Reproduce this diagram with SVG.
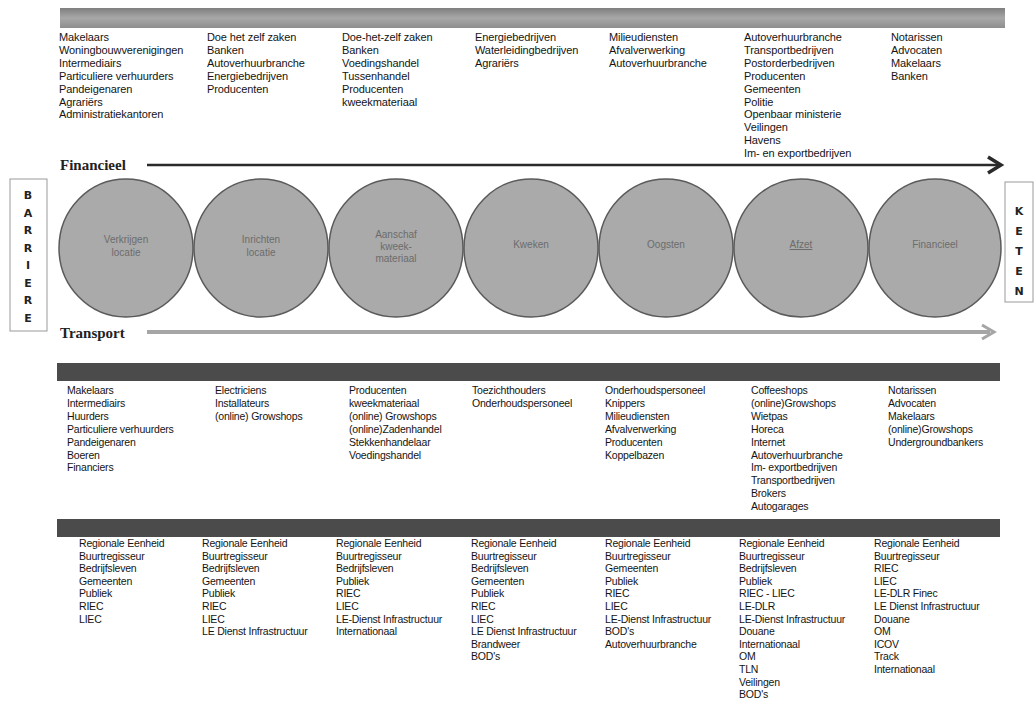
<svg xmlns="http://www.w3.org/2000/svg" width="1034" height="701" viewBox="0 0 1034 701">
<defs>
<style>
.t{font-family:"Liberation Sans",Arial,sans-serif;font-size:10.5px;fill:#141414;letter-spacing:-0.2px}
.tt{font-size:11px;letter-spacing:-0.1px}
.c{font-family:"Liberation Sans",Arial,sans-serif;font-size:10px;fill:#6c6c6c;text-anchor:middle}
.lbl{font-family:"Liberation Serif","Times New Roman",serif;font-size:15px;font-weight:bold;fill:#222}
.v{font-family:"DejaVu Sans",sans-serif;font-size:11px;font-weight:bold;fill:#222;text-anchor:middle}
.circ{fill:#aaaaaa;stroke:#5a5a5a;stroke-width:1.5}
.band{fill:#4b4b4b}
.box{fill:#fff;stroke:#999;stroke-width:1}
</style>
<linearGradient id="hg" x1="0" y1="0" x2="0" y2="1">
<stop offset="0" stop-color="#7e7e7e"/>
<stop offset="0.5" stop-color="#a8a8a8"/>
<stop offset="1" stop-color="#8e8e8e"/>
</linearGradient>
</defs>
<rect width="1034" height="701" fill="#fff"/>

<g id="header-band"><rect x="60" y="8" width="945" height="20" fill="url(#hg)"/></g>

<g id="top-col1"><text class="t tt" y="41"><tspan x="59">Makelaars</tspan><tspan x="59" dy="12.9">Woningbouwverenigingen</tspan><tspan x="59" dy="12.9">Intermediairs</tspan><tspan x="59" dy="12.9">Particuliere verhuurders</tspan><tspan x="59" dy="12.9">Pandeigenaren</tspan><tspan x="59" dy="12.9">Agrariërs</tspan><tspan x="59" dy="12.9">Administratiekantoren</tspan></text></g>
<g id="top-col2"><text class="t tt" y="41"><tspan x="207">Doe het zelf zaken</tspan><tspan x="207" dy="12.9">Banken</tspan><tspan x="207" dy="12.9">Autoverhuurbranche</tspan><tspan x="207" dy="12.9">Energiebedrijven</tspan><tspan x="207" dy="12.9">Producenten</tspan></text></g>
<g id="top-col3"><text class="t tt" y="41"><tspan x="342">Doe-het-zelf zaken</tspan><tspan x="342" dy="12.9">Banken</tspan><tspan x="342" dy="12.9">Voedingshandel</tspan><tspan x="342" dy="12.9">Tussenhandel</tspan><tspan x="342" dy="12.9">Producenten</tspan><tspan x="342" dy="12.9">kweekmateriaal</tspan></text></g>
<g id="top-col4"><text class="t tt" y="41"><tspan x="475">Energiebedrijven</tspan><tspan x="475" dy="12.9">Waterleidingbedrijven</tspan><tspan x="475" dy="12.9">Agrariërs</tspan></text></g>
<g id="top-col5"><text class="t tt" y="41"><tspan x="609">Milieudiensten</tspan><tspan x="609" dy="12.9">Afvalverwerking</tspan><tspan x="609" dy="12.9">Autoverhuurbranche</tspan></text></g>
<g id="top-col6"><text class="t tt" y="41"><tspan x="744">Autoverhuurbranche</tspan><tspan x="744" dy="12.9">Transportbedrijven</tspan><tspan x="744" dy="12.9">Postorderbedrijven</tspan><tspan x="744" dy="12.9">Producenten</tspan><tspan x="744" dy="12.9">Gemeenten</tspan><tspan x="744" dy="12.9">Politie</tspan><tspan x="744" dy="12.9">Openbaar ministerie</tspan><tspan x="744" dy="12.9">Veilingen</tspan><tspan x="744" dy="12.9">Havens</tspan><tspan x="744" dy="12.9">Im- en exportbedrijven</tspan></text></g>
<g id="top-col7"><text class="t tt" y="41"><tspan x="891">Notarissen</tspan><tspan x="891" dy="12.9">Advocaten</tspan><tspan x="891" dy="12.9">Makelaars</tspan><tspan x="891" dy="12.9">Banken</tspan></text></g>

<g id="label-financieel"><text class="lbl" x="60" y="170">Financieel</text></g>
<g id="label-transport"><text class="lbl" x="60" y="338">Transport</text></g>

<g id="barriere"><rect class="box" x="10" y="179" width="37" height="152"/>
<text class="v"><tspan x="28" y="199">B</tspan><tspan x="28" y="216.5">A</tspan><tspan x="28" y="234">R</tspan><tspan x="28" y="251.5">R</tspan><tspan x="28" y="269">I</tspan><tspan x="28" y="286.5">E</tspan><tspan x="28" y="304">R</tspan><tspan x="28" y="321.5">E</tspan></text></g>
<g id="keten"><rect class="box" x="1005" y="182" width="28" height="120"/>
<text class="v"><tspan x="1019" y="215">K</tspan><tspan x="1019" y="235">E</tspan><tspan x="1019" y="255">T</tspan><tspan x="1019" y="275">E</tspan><tspan x="1019" y="295">N</tspan></text></g>

<g id="circle1"><ellipse class="circ" cx="126" cy="248" rx="67" ry="69"/><text class="c"><tspan x="126" y="243">Verkrijgen</tspan><tspan x="126" y="256">locatie</tspan></text></g>
<g id="circle2"><ellipse class="circ" cx="261" cy="248" rx="67" ry="69"/><text class="c"><tspan x="261" y="243">Inrichten</tspan><tspan x="261" y="256">locatie</tspan></text></g>
<g id="circle3"><ellipse class="circ" cx="396" cy="248" rx="67" ry="69"/><text class="c"><tspan x="396" y="238">Aanschaf</tspan><tspan x="396" y="250">kweek-</tspan><tspan x="396" y="262">materiaal</tspan></text></g>
<g id="circle4"><ellipse class="circ" cx="531" cy="248" rx="67" ry="69"/><text class="c" x="531" y="248">Kweken</text></g>
<g id="circle5"><ellipse class="circ" cx="666" cy="248" rx="67" ry="69"/><text class="c" x="666" y="248">Oogsten</text></g>
<g id="circle6"><ellipse class="circ" cx="801" cy="248" rx="67" ry="69"/><text class="c" x="801" y="248" text-decoration="underline">Afzet</text></g>
<g id="circle7"><ellipse class="circ" cx="935" cy="248" rx="66" ry="69"/><text class="c" x="935" y="248">Financieel</text></g>

<g id="connectors">
<line x1="147" y1="165" x2="998" y2="165" stroke="#2a2a2a" stroke-width="2.5"/>
<polyline points="988,157 1001,165 988,173" fill="none" stroke="#2a2a2a" stroke-width="3.5" stroke-linejoin="miter"/>
<line x1="147" y1="332" x2="990" y2="332" stroke="#a6a6a6" stroke-width="4"/>
<polyline points="982,325 994,332 982,339" fill="none" stroke="#a6a6a6" stroke-width="3"/>
</g>

<g id="mid-band"><rect class="band" x="57" y="363" width="943" height="18"/></g>
<g id="mid-col1"><text class="t" y="394"><tspan x="67">Makelaars</tspan><tspan x="67" dy="12.9">Intermediairs</tspan><tspan x="67" dy="12.9">Huurders</tspan><tspan x="67" dy="12.9">Particuliere verhuurders</tspan><tspan x="67" dy="12.9">Pandeigenaren</tspan><tspan x="67" dy="12.9">Boeren</tspan><tspan x="67" dy="12.9">Financiers</tspan></text></g>
<g id="mid-col2"><text class="t" y="394"><tspan x="215">Electriciens</tspan><tspan x="215" dy="12.9">Installateurs</tspan><tspan x="215" dy="12.9">(online) Growshops</tspan></text></g>
<g id="mid-col3"><text class="t" y="394"><tspan x="349">Producenten</tspan><tspan x="349" dy="12.9">kweekmateriaal</tspan><tspan x="349" dy="12.9">(online) Growshops</tspan><tspan x="349" dy="12.9">(online)Zadenhandel</tspan><tspan x="349" dy="12.9">Stekkenhandelaar</tspan><tspan x="349" dy="12.9">Voedingshandel</tspan></text></g>
<g id="mid-col4"><text class="t" y="394"><tspan x="472">Toezichthouders</tspan><tspan x="472" dy="12.9">Onderhoudspersoneel</tspan></text></g>
<g id="mid-col5"><text class="t" y="394"><tspan x="605">Onderhoudspersoneel</tspan><tspan x="605" dy="12.9">Knippers</tspan><tspan x="605" dy="12.9">Milieudiensten</tspan><tspan x="605" dy="12.9">Afvalverwerking</tspan><tspan x="605" dy="12.9">Producenten</tspan><tspan x="605" dy="12.9">Koppelbazen</tspan></text></g>
<g id="mid-col6"><text class="t" y="394"><tspan x="751">Coffeeshops</tspan><tspan x="751" dy="12.9">(online)Growshops</tspan><tspan x="751" dy="12.9">Wietpas</tspan><tspan x="751" dy="12.9">Horeca</tspan><tspan x="751" dy="12.9">Internet</tspan><tspan x="751" dy="12.9">Autoverhuurbranche</tspan><tspan x="751" dy="12.9">Im- exportbedrijven</tspan><tspan x="751" dy="12.9">Transportbedrijven</tspan><tspan x="751" dy="12.9">Brokers</tspan><tspan x="751" dy="12.9">Autogarages</tspan></text></g>
<g id="mid-col7"><text class="t" y="394"><tspan x="888">Notarissen</tspan><tspan x="888" dy="12.9">Advocaten</tspan><tspan x="888" dy="12.9">Makelaars</tspan><tspan x="888" dy="12.9">(online)Growshops</tspan><tspan x="888" dy="12.9">Undergroundbankers</tspan></text></g>

<g id="bottom-band"><rect class="band" x="57" y="519" width="943" height="18"/></g>
<g id="bot-col1"><text class="t" y="547"><tspan x="79">Regionale Eenheid</tspan><tspan x="79" dy="12.6">Buurtregisseur</tspan><tspan x="79" dy="12.6">Bedrijfsleven</tspan><tspan x="79" dy="12.6">Gemeenten</tspan><tspan x="79" dy="12.6">Publiek</tspan><tspan x="79" dy="12.6">RIEC</tspan><tspan x="79" dy="12.6">LIEC</tspan></text></g>
<g id="bot-col2"><text class="t" y="547"><tspan x="202">Regionale Eenheid</tspan><tspan x="202" dy="12.6">Buurtregisseur</tspan><tspan x="202" dy="12.6">Bedrijfsleven</tspan><tspan x="202" dy="12.6">Gemeenten</tspan><tspan x="202" dy="12.6">Publiek</tspan><tspan x="202" dy="12.6">RIEC</tspan><tspan x="202" dy="12.6">LIEC</tspan><tspan x="202" dy="12.6">LE Dienst Infrastructuur</tspan></text></g>
<g id="bot-col3"><text class="t" y="547"><tspan x="336">Regionale Eenheid</tspan><tspan x="336" dy="12.6">Buurtregisseur</tspan><tspan x="336" dy="12.6">Bedrijfsleven</tspan><tspan x="336" dy="12.6">Publiek</tspan><tspan x="336" dy="12.6">RIEC</tspan><tspan x="336" dy="12.6">LIEC</tspan><tspan x="336" dy="12.6">LE-Dienst Infrastructuur</tspan><tspan x="336" dy="12.6">Internationaal</tspan></text></g>
<g id="bot-col4"><text class="t" y="547"><tspan x="471">Regionale Eenheid</tspan><tspan x="471" dy="12.6">Buurtregisseur</tspan><tspan x="471" dy="12.6">Bedrijfsleven</tspan><tspan x="471" dy="12.6">Gemeenten</tspan><tspan x="471" dy="12.6">Publiek</tspan><tspan x="471" dy="12.6">RIEC</tspan><tspan x="471" dy="12.6">LIEC</tspan><tspan x="471" dy="12.6">LE Dienst Infrastructuur</tspan><tspan x="471" dy="12.6">Brandweer</tspan><tspan x="471" dy="12.6">BOD's</tspan></text></g>
<g id="bot-col5"><text class="t" y="547"><tspan x="605">Regionale Eenheid</tspan><tspan x="605" dy="12.6">Buurtregisseur</tspan><tspan x="605" dy="12.6">Gemeenten</tspan><tspan x="605" dy="12.6">Publiek</tspan><tspan x="605" dy="12.6">RIEC</tspan><tspan x="605" dy="12.6">LIEC</tspan><tspan x="605" dy="12.6">LE-Dienst Infrastructuur</tspan><tspan x="605" dy="12.6">BOD's</tspan><tspan x="605" dy="12.6">Autoverhuurbranche</tspan></text></g>
<g id="bot-col6"><text class="t" y="547"><tspan x="739">Regionale Eenheid</tspan><tspan x="739" dy="12.6">Buurtregisseur</tspan><tspan x="739" dy="12.6">Bedrijfsleven</tspan><tspan x="739" dy="12.6">Publiek</tspan><tspan x="739" dy="12.6">RIEC - LIEC</tspan><tspan x="739" dy="12.6">LE-DLR</tspan><tspan x="739" dy="12.6">LE-Dienst Infrastructuur</tspan><tspan x="739" dy="12.6">Douane</tspan><tspan x="739" dy="12.6">Internationaal</tspan><tspan x="739" dy="12.6">OM</tspan><tspan x="739" dy="12.6">TLN</tspan><tspan x="739" dy="12.6">Veilingen</tspan><tspan x="739" dy="12.6">BOD's</tspan></text></g>
<g id="bot-col7"><text class="t" y="547"><tspan x="874">Regionale Eenheid</tspan><tspan x="874" dy="12.6">Buurtregisseur</tspan><tspan x="874" dy="12.6">RIEC</tspan><tspan x="874" dy="12.6">LIEC</tspan><tspan x="874" dy="12.6">LE-DLR Finec</tspan><tspan x="874" dy="12.6">LE Dienst Infrastructuur</tspan><tspan x="874" dy="12.6">Douane</tspan><tspan x="874" dy="12.6">OM</tspan><tspan x="874" dy="12.6">ICOV</tspan><tspan x="874" dy="12.6">Track</tspan><tspan x="874" dy="12.6">Internationaal</tspan></text></g>
</svg>
